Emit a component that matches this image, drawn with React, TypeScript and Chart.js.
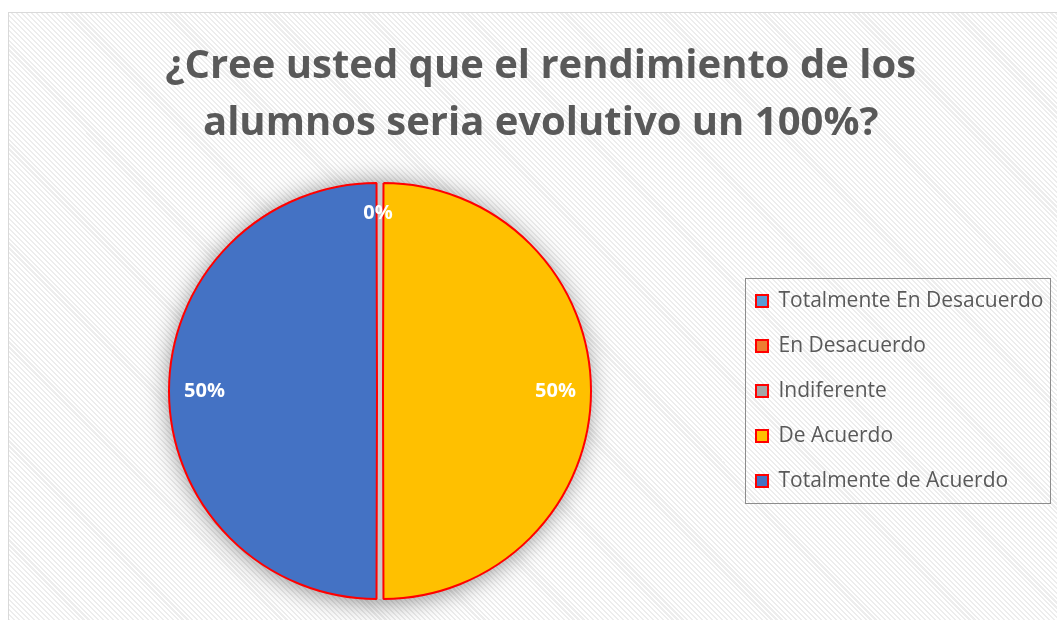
import React, { useEffect, useRef } from "react";
import { Chart, registerables } from "chart.js";

Chart.register(...registerables);

const categories = [
  "Totalmente En Desacuerdo",
  "En Desacuerdo",
  "Indiferente",
  "De Acuerdo",
  "Totalmente de Acuerdo",
];
const values = [0, 0, 0, 50, 50];
const sliceColors = ["#5B9BD5", "#ED7D31", "#A5A5A5", "#FFC000", "#4472C4"];
const titleLines = ["¿Cree usted que el rendimiento de los", "alumnos seria evolutivo un 100%?"];

const W = 1057;
const H = 620;
const TARGET = { cx: 380, cy: 391, legendLeft: 732 };

const pieShadow = {
  id: "pieShadow",
  beforeDatasetsDraw(chart: any) {
    const meta = chart.getDatasetMeta(0);
    const arc = meta.data[0];
    if (!arc) return;
    const { ctx } = chart;
    ctx.save();
    ctx.shadowColor = "rgba(0,0,0,0.5)";
    ctx.shadowBlur = 26;
    ctx.shadowOffsetX = -1;
    ctx.shadowOffsetY = 2;
    ctx.beginPath();
    ctx.arc(arc.x, arc.y, arc.outerRadius + 3, 0, Math.PI * 2);
    ctx.fillStyle = "#c8c8c8";
    ctx.fill();
    ctx.restore();
  },
};

const sliceLabels = {
  id: "sliceLabels",
  afterDatasetsDraw(chart: any) {
    const meta = chart.getDatasetMeta(0);
    const data = chart.data.datasets[0].data as number[];
    const total = data.reduce((a, b) => a + b, 0);
    const { ctx } = chart;
    const seen = new Set<string>();
    ctx.save();
    ctx.fillStyle = "#ffffff";
    ctx.font = "bold 20px 'Open Sans'";
    ctx.textAlign = "center";
    ctx.textBaseline = "middle";
    meta.data.forEach((arc: any, i: number) => {
      const mid = (arc.startAngle + arc.endAngle) / 2;
      const r = arc.outerRadius * (data[i] === 0 ? 0.868 : 0.856);
      const x = arc.x + Math.cos(mid) * r - (data[i] === 0 ? 2 : 0);
      const y = arc.y + Math.sin(mid) * r;
      const txt = Math.round((data[i] / total) * 100) + "%";
      const key = Math.round(x) + "," + Math.round(y) + txt;
      if (seen.has(key)) return;
      seen.add(key);
      ctx.fillText(txt, x, y);
    });
    ctx.restore();
  },
};

const legendBox = {
  id: "legendBox",
  afterDraw(chart: any) {
    const boxes = chart.legend && chart.legend.legendHitBoxes;
    if (!boxes || !boxes.length) return;
    let l = Infinity, t = Infinity, r = -Infinity, b = -Infinity;
    boxes.forEach((h: any) => {
      l = Math.min(l, h.left);
      t = Math.min(t, h.top);
      r = Math.max(r, h.left + h.width);
      b = Math.max(b, h.top + h.height);
    });
    const { ctx } = chart;
    ctx.save();
    ctx.strokeStyle = "#8c8c8c";
    ctx.lineWidth = 1;
    const x0 = Math.round(l - 11) + 0.5;
    const y0 = Math.round(t - 13) + 0.5;
    const x1 = Math.round(r + 6) + 0.5;
    const y1 = Math.round(b + 11) + 0.5;
    ctx.strokeRect(x0, y0, x1 - x0, y1 - y0);
    ctx.restore();
  },
};

export default function App() {
  const canvasRef = useRef<HTMLCanvasElement | null>(null);

  useEffect(() => {
    if (!canvasRef.current) return;
    const padding = { left: 28, right: 5, top: 0, bottom: 3 };
    const chart = new Chart(canvasRef.current, {
      type: "pie",
      data: {
        labels: categories,
        datasets: [
          {
            data: values,
            backgroundColor: sliceColors,
            borderColor: "#FF0000",
            borderWidth: 2,
            offset: 12,
            radius: 205,
          } as any,
        ],
      },
      options: {
        responsive: false,
        animation: false,
        events: [],
        layout: { padding },
        plugins: {
          title: {
            display: true,
            text: titleLines,
            color: "#595959",
            font: { family: "'Open Sans'", size: 40, weight: "bold", lineHeight: 1.43 },
            padding: { top: 38, bottom: 14 },
          },
          legend: {
            display: true,
            position: "right",
            fullSize: false,
            labels: {
              color: "#595959",
              font: { family: "'Open Sans'", size: 21 },
              boxWidth: 12,
              boxHeight: 12,
              padding: 24,
            },
          },
          tooltip: { enabled: false },
        },
      } as any,
      plugins: [pieShadow, sliceLabels, legendBox],
    });

    for (let i = 0; i < 3; i++) {
      const lg: any = chart.legend;
      const ca = chart.chartArea;
      padding.right = Math.max(0, padding.right + (lg.left - TARGET.legendLeft));
      padding.left = Math.max(0, 2 * TARGET.cx - TARGET.legendLeft);
      padding.bottom = Math.max(0, H - (2 * TARGET.cy - ca.top));
      chart.update();
    }

    return () => chart.destroy();
  }, []);

  return (
    <div style={{ position: "fixed", left: 0, top: 0, width: W, height: H, overflow: "hidden", background: "#ffffff" }}>
      <div
        style={{
          position: "absolute",
          left: 8,
          top: 12,
          width: 1060,
          height: 620,
          border: "1px solid #d9d9d9",
          background:
            "repeating-linear-gradient(45deg, #ffffff 0px, #ffffff 2px, #ededed 2px, #ededed 3.5px)",
        }}
      />
      <canvas ref={canvasRef} width={W} height={H} style={{ position: "absolute", left: 0, top: 0 }} />
    </div>
  );
}
